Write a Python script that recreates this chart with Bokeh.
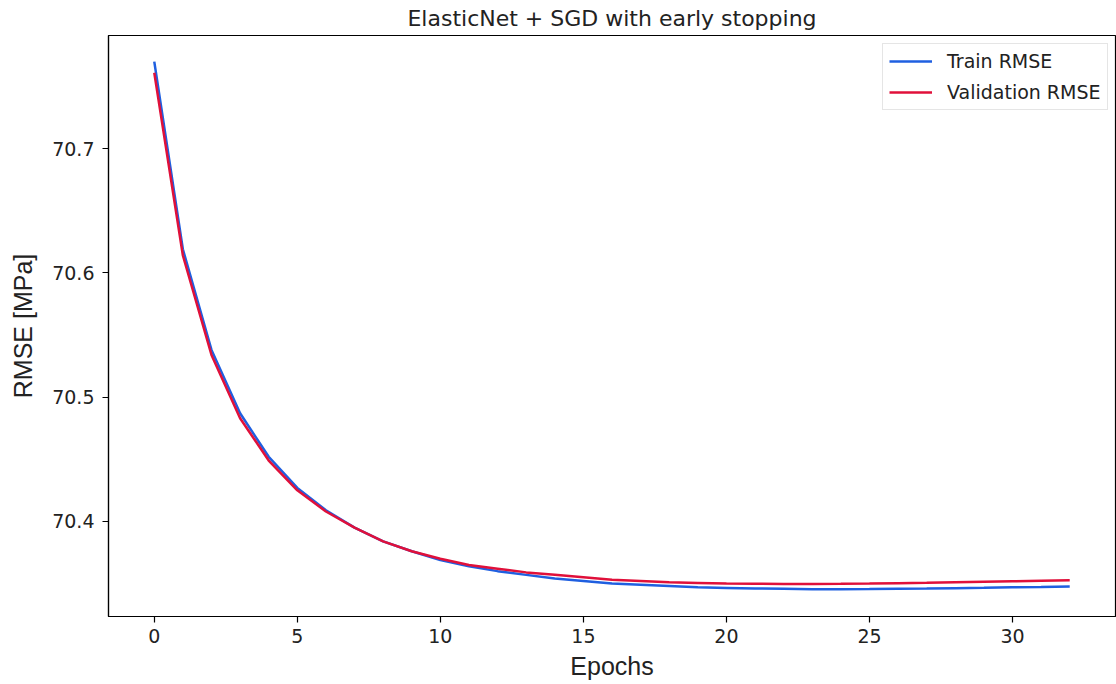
from bokeh.plotting import figure
from bokeh.models import Legend, LegendItem, FixedTicker, Range1d, Title
from bokeh.embed import file_html
from bokeh.resources import INLINE

epochs = list(range(33))
train_rmse = [70.770, 70.619, 70.538, 70.487, 70.452, 70.427, 70.409, 70.395, 70.384,
              70.376, 70.369, 70.364, 70.360, 70.357, 70.354, 70.352, 70.350, 70.349,
              70.348, 70.347, 70.3465, 70.346, 70.3458, 70.3455, 70.3455, 70.3456,
              70.3458, 70.346, 70.3463, 70.3466, 70.347, 70.3473, 70.3477]
val_rmse = [70.761, 70.614, 70.534, 70.483, 70.449, 70.425, 70.408, 70.395, 70.384,
            70.376, 70.370, 70.365, 70.362, 70.359, 70.357, 70.355, 70.353, 70.352,
            70.351, 70.3505, 70.350, 70.3498, 70.3497, 70.3497, 70.3498, 70.350,
            70.3503, 70.3506, 70.351, 70.3514, 70.3518, 70.3522, 70.3526]
x_ticks = [0, 5, 10, 15, 20, 25, 30]
y_ticks = [70.4, 70.5, 70.6, 70.7]
title_text = "ElasticNet + SGD with early stopping"

TXT = "#222222"

p = figure(width=1116, height=684, output_backend="svg", toolbar_location=None,
           x_range=Range1d(-1.6, 33.6), y_range=Range1d(70.3235, 70.791),
           min_border_left=108, min_border_right=1, min_border_top=35, min_border_bottom=68)
p.title = Title(text=title_text, align="center", text_font="DejaVu Sans",
                text_font_size="22px", text_font_style="normal", text_color=TXT,
                standoff=6, vertical_align="top")

p.outline_line_color = "black"
p.outline_line_width = 1.2
p.grid.visible = False
p.background_fill_color = "white"
p.border_fill_color = "white"

for ax in (p.xaxis[0], p.yaxis[0]):
    ax.axis_line_color = "black"
    ax.axis_line_width = 1.2
    ax.major_tick_out = 6
    ax.major_tick_in = 0
    ax.minor_tick_out = 0
    ax.minor_tick_in = 0
    ax.major_tick_line_color = "black"
    ax.major_tick_line_width = 1.2
    ax.major_label_text_font = "DejaVu Sans"
    ax.major_label_text_font_size = "19px"
    ax.major_label_text_color = TXT
    ax.axis_label_text_font = "Liberation Sans"
    ax.axis_label_text_font_size = "25px"
    ax.axis_label_text_font_style = "normal"
    ax.axis_label_text_color = TXT

p.xaxis[0].ticker = FixedTicker(ticks=x_ticks)
p.yaxis[0].ticker = FixedTicker(ticks=y_ticks)
p.xaxis[0].axis_label = "Epochs"
p.yaxis[0].axis_label = "RMSE [MPa]"
p.xaxis[0].major_label_standoff = 6
p.xaxis[0].axis_label_standoff = 6
p.yaxis[0].major_label_standoff = 8
p.yaxis[0].axis_label_standoff = 12

r_train = p.line(epochs, train_rmse, line_color="#1f5fe0", line_width=2.5)
r_val = p.line(epochs, val_rmse, line_color="#e0103a", line_width=2.5)

legend = Legend(items=[LegendItem(label="Train RMSE", renderers=[r_train]),
                       LegendItem(label="Validation RMSE", renderers=[r_val])],
                location=(774, 506))
legend.label_text_font = "DejaVu Sans"
legend.label_text_font_size = "19px"
legend.label_text_color = TXT
legend.glyph_width = 43
legend.glyph_height = 20
legend.label_height = 20
legend.label_standoff = 15
legend.spacing = 9
legend.padding = 6
legend.margin = 0
legend.border_line_color = "#cccccc"
legend.border_line_width = 1
legend.background_fill_alpha = 0.9
p.add_layout(legend)

open("out.html", "w").write(file_html(p, INLINE))
